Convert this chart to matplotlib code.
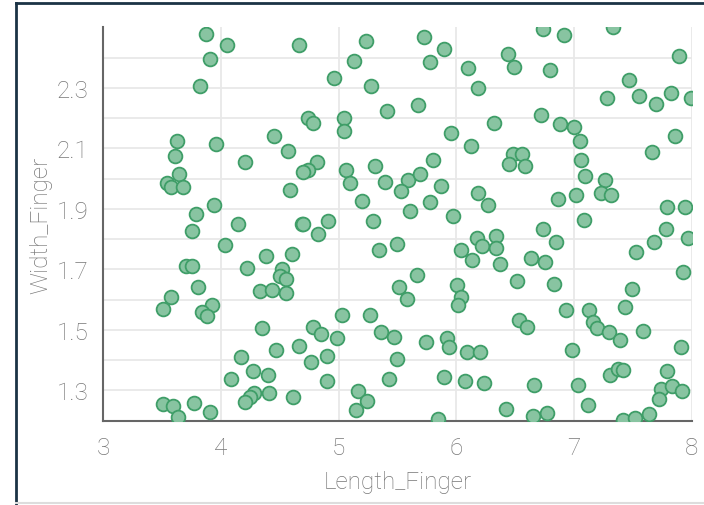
import matplotlib
matplotlib.use("Agg")
import matplotlib.pyplot as plt
from matplotlib.lines import Line2D
import numpy as np

# data
length_finger = [
    3.872, 4.053, 4.662, 3.903, 3.821, 3.622, 3.954, 4.450, 3.608, 4.566,
    4.203, 3.642, 3.537, 3.574, 3.673, 4.583, 3.937, 3.787,
    5.230, 5.728, 5.893, 5.130, 5.774, 6.102, 4.963, 5.277, 6.187, 5.674,
    5.408, 4.736, 4.784, 5.045, 5.045, 6.321, 5.955, 6.122, 4.813, 4.742,
    4.699, 5.065, 5.309, 5.804, 5.096, 5.394, 5.592, 5.691, 5.530, 5.870,
    5.196, 5.776, 6.187, 6.267, 5.606, 5.975, 4.912, 5.294,
    6.735, 6.918, 7.327, 6.437, 6.491, 6.799, 7.891, 7.463, 7.281, 7.548,
    7.696, 7.826, 7.990, 6.720, 6.884, 7.001, 7.052, 7.860, 6.485, 6.556,
    6.448, 6.584, 7.661, 7.060, 7.094, 7.264, 7.231, 7.316, 7.015, 6.867,
    7.792, 7.945, 7.083,
    4.146, 4.685, 3.750, 4.033, 4.379, 4.600, 3.699, 3.750, 4.218, 4.515,
    4.501, 4.549, 3.806, 4.331, 4.430, 4.549, 3.574, 3.509, 3.920, 3.835,
    3.878, 4.350, 4.467, 4.662, 4.169, 4.269, 4.401, 4.084, 4.282, 4.246,
    4.203, 4.410, 4.614, 3.509, 3.594, 3.636, 3.772, 3.906,
    4.699, 4.827, 5.343, 5.493, 5.663, 5.510, 5.578, 6.040, 6.173, 6.221,
    6.338, 6.338, 6.136, 6.372, 6.003, 6.037, 6.017, 5.031, 5.264, 4.784,
    4.849, 4.983, 5.360, 5.473, 5.740, 5.923, 5.938, 6.088, 6.204, 4.764,
    4.898, 5.493, 4.898, 5.428, 5.893, 6.074, 6.236, 5.162, 5.243, 5.144,
    5.842,
    6.735, 7.781, 7.968, 6.849, 6.635, 6.754, 7.678, 7.528, 7.922, 6.519,
    6.833, 7.491, 7.429, 6.930, 7.128, 6.533, 6.604, 7.160, 7.194, 7.299,
    7.392, 7.582, 6.981, 7.911, 7.307, 7.373, 7.412, 7.789, 6.663, 7.032,
    7.741, 7.832, 7.917, 7.724, 6.420, 7.117, 6.655, 6.769, 7.412, 7.520,
    7.641,
]
width_finger = [
    2.478, 2.442, 2.442, 2.396, 2.306, 2.126, 2.113, 2.141, 2.075, 2.092,
    2.055, 2.016, 1.986, 1.972, 1.972, 1.964, 1.913, 1.882,
    2.456, 2.468, 2.429, 2.390, 2.386, 2.365, 2.334, 2.307, 2.301, 2.243,
    2.222, 2.199, 2.184, 2.199, 2.158, 2.184, 2.151, 2.107, 2.055, 2.030,
    2.023, 2.030, 2.042, 2.062, 1.985, 1.990, 1.996, 2.016, 1.960, 1.977,
    1.926, 1.922, 1.953, 1.913, 1.893, 1.875, 1.861, 1.861,
    2.495, 2.476, 2.500, 2.411, 2.370, 2.359, 2.404, 2.326, 2.268, 2.273,
    2.247, 2.282, 2.268, 2.210, 2.179, 2.171, 2.126, 2.141, 2.082, 2.082,
    2.049, 2.043, 2.088, 2.062, 2.010, 1.997, 1.953, 1.946, 1.946, 1.933,
    1.907, 1.907, 1.864,
    1.849, 1.849, 1.827, 1.781, 1.744, 1.752, 1.711, 1.711, 1.706, 1.700,
    1.678, 1.667, 1.641, 1.628, 1.633, 1.622, 1.608, 1.569, 1.584, 1.558,
    1.545, 1.506, 1.434, 1.447, 1.410, 1.364, 1.351, 1.338, 1.293, 1.279,
    1.262, 1.292, 1.279, 1.254, 1.248, 1.212, 1.259, 1.228,
    1.849, 1.816, 1.763, 1.783, 1.680, 1.641, 1.603, 1.764, 1.805, 1.777,
    1.811, 1.770, 1.731, 1.719, 1.649, 1.609, 1.584, 1.550, 1.550, 1.511,
    1.486, 1.473, 1.493, 1.478, 1.460, 1.473, 1.445, 1.427, 1.427, 1.395,
    1.415, 1.403, 1.330, 1.338, 1.343, 1.330, 1.325, 1.298, 1.265, 1.234,
    1.204,
    1.835, 1.835, 1.803, 1.791, 1.737, 1.726, 1.789, 1.757, 1.692, 1.661,
    1.653, 1.636, 1.576, 1.565, 1.565, 1.534, 1.511, 1.525, 1.506, 1.493,
    1.467, 1.498, 1.434, 1.442, 1.351, 1.370, 1.367, 1.364, 1.318, 1.318,
    1.304, 1.314, 1.299, 1.271, 1.240, 1.253, 1.215, 1.227, 1.201, 1.210,
    1.221,
]
x_ticks = [3, 4, 5, 6, 7, 8]
y_ticks = [1.3, 1.5, 1.7, 1.9, 2.1, 2.3]

plt.rcParams["font.family"] = ["Roboto", "DejaVu Sans"]

fig = plt.figure(figsize=(7.04, 5.06), dpi=100)
ax = fig.add_axes([0.147, 0.1666, 0.8355, 0.7774])

ax.scatter(length_finger, width_finger, s=98, facecolor="#88c4a1",
           edgecolor="#3f9e68", linewidth=1.3, zorder=3)

ax.set_xlim(3, 8)
ax.set_ylim(1.2, 2.5)
ax.set_xticks(x_ticks)
ax.set_yticks(y_ticks)
ax.set_yticks(np.arange(1.2, 2.45, 0.1), minor=True)
ax.grid(True, which="major", color="#e8e8e8", linewidth=1.3, zorder=0)
ax.grid(True, which="minor", axis="y", color="#e8e8e8", linewidth=1.3, zorder=0)
ax.tick_params(which="both", length=0)
ax.tick_params(axis="x", pad=11, labelsize=17.5, labelcolor="#777777")
ax.tick_params(axis="y", pad=11, labelsize=17.5, labelcolor="#777777")
for lab in ax.get_xticklabels() + ax.get_yticklabels():
    lab.set_fontweight("light")

for s in ["top", "right"]:
    ax.spines[s].set_visible(False)
for s in ["left", "bottom"]:
    ax.spines[s].set_color("#666666")
    ax.spines[s].set_linewidth(1.5)

ax.set_xlabel("Length_Finger", fontsize=17.5, color="#777777", fontweight="light", labelpad=8)
ax.set_ylabel("Width_Finger", fontsize=17.5, color="#777777", fontweight="light", labelpad=3)

# frame of the screenshot
fig.add_artist(Line2D([16 / 704, 16 / 704], [0, 1 - 4 / 506], color="#1b3345", linewidth=2))
fig.add_artist(Line2D([16 / 704, 1], [1 - 4 / 506, 1 - 4 / 506], color="#1b3345", linewidth=2))
fig.add_artist(Line2D([16 / 704, 1], [2 / 506, 2 / 506], color="#dddddd", linewidth=1.5))

fig.savefig("out.png", dpi=100)
